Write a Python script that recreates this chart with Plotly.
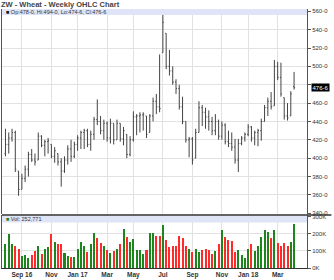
import plotly.graph_objects as go
import pandas as pd

# ---------------- data ----------------
start_date = "2016-08-01"
opens = [405, 415, 422, 428, 386, 366, 378, 388, 404, 398, 398, 424, 414, 418, 415, 402, 405, 396, 386, 398,
         410, 402, 415, 422, 428, 430, 415, 426, 442, 440, 430, 438, 422, 438, 420, 438, 421, 426, 404, 420,
         445, 446, 447, 446, 428, 446, 462, 456, 515, 536, 500, 495, 483, 476, 456, 440, 420, 421, 400, 428,
         455, 450, 445, 440, 430, 440, 424, 436, 418, 416, 412, 398, 416, 422, 426, 434, 422, 428, 430, 440,
         455, 462, 457, 500, 488, 466, 446, 446, 478]
highs = [432, 428, 432, 430, 386, 383, 392, 407, 410, 405, 428, 425, 420, 422, 415, 412, 405, 400, 402, 414,
         420, 418, 425, 430, 432, 432, 430, 445, 464, 446, 442, 440, 443, 438, 442, 438, 434, 426, 424, 451,
         448, 450, 450, 446, 448, 466, 470, 513, 558, 536, 518, 500, 486, 480, 467, 440, 423, 423, 432, 462,
         458, 455, 452, 445, 448, 442, 440, 438, 430, 428, 421, 421, 424, 428, 437, 435, 430, 432, 443, 458,
         466, 472, 507, 505, 504, 466, 460, 473, 494]
lows = [402, 405, 418, 385, 359, 366, 374, 380, 396, 392, 398, 412, 402, 405, 400, 395, 392, 369, 384, 393,
        396, 400, 408, 410, 410, 412, 408, 420, 436, 426, 420, 418, 416, 415, 420, 418, 414, 400, 402, 418,
        425, 428, 430, 422, 428, 440, 448, 450, 515, 497, 490, 480, 470, 453, 437, 417, 401, 393, 400, 428,
        435, 432, 430, 425, 425, 420, 420, 415, 412, 408, 394, 385, 414, 418, 424, 418, 414, 413, 419, 440,
        446, 453, 457, 485, 467, 442, 441, 446, 474.75]
closes = [415, 422, 428, 388, 366, 378, 388, 404, 398, 396, 424, 414, 418, 419, 402, 408, 396, 386, 398, 410,
          402, 415, 422, 428, 430, 415, 426, 442, 440, 430, 438, 422, 438, 420, 438, 421, 430, 404, 420, 445,
          446, 447, 448, 426, 446, 462, 456, 454, 548, 500, 495, 483, 476, 456, 440, 420, 421, 398, 428, 455,
          450, 445, 440, 430, 440, 424, 436, 418, 416, 412, 398, 416, 422, 426, 434, 422, 428, 430, 440, 455,
          462, 456, 500, 488, 470, 446, 444, 470, 476.75]
volumes = [136000, 194000, 138000, 126000, 109000, 66000, 72000, 57000, 75000, 94000,
           128000, 81000, 108000, 117000, 198000, 147000, 138000, 138000, 85000, 70000,
           60000, 62000, 108000, 151000, 128000, 89000, 138000, 202000, 174000, 142000,
           128000, 100000, 85000, 94000, 109000, 138000, 226000, 179000, 151000, 166000,
           104000, 100000, 81000, 104000, 204000, 202000, 183000, 183000, 245000, 160000,
           117000, 126000, 126000, 183000, 174000, 126000, 108000, 89000, 108000, 89000,
           102000, 108000, 104000, 79000, 98000, 136000, 217000, 179000, 158000, 155000,
           89000, 102000, 75000, 55000, 108000, 140000, 98000, 123000, 179000, 217000,
           208000, 174000, 217000, 145000, 123000, 145000, 123000, 151000, 252771]

price_ticks = [340, 360, 380, 400, 420, 440, 460, 480, 500, 520, 540, 560]
# 480-0 is hidden under the last-price marker in the reference
price_labels = ["340-0", "360-0", "380-0", "400-0", "420-0", "440-0", "460-0", "",
                "500-0", "520-0", "540-0", "560-0"]
vol_ticks = [0, 100000, 200000, 300000]
vol_labels = ["0K", "100K", "200K", "300K"]
month_ticks = ["2016-09-05", "2016-11-07", "2017-01-02", "2017-03-06", "2017-05-01",
               "2017-07-03", "2017-09-04", "2017-11-06", "2018-01-01", "2018-03-05"]
month_labels = ["Sep 16", "Nov", "Jan 17", "Mar", "May", "Jul", "Sep", "Nov", "Jan 18", "Mar"]

title_text = "ZW - Wheat - Weekly OHLC Chart"

# ---------------- helpers ----------------
def fmt8(v):
    whole = int(v)
    eighth = int(round((v - whole) * 8))
    return f"{whole}-{eighth}"

dates = pd.date_range(start_date, periods=len(closes), freq="7D")

UP = "#1c861c"
DOWN = "#ff2b2b"
vol_colors = []
for i, c in enumerate(closes):
    ref = opens[i] if i == 0 else closes[i - 1]
    vol_colors.append(UP if c >= ref else DOWN)

FONT = "Arial, Liberation Sans, sans-serif"
TXT = "#333333"

fig = go.Figure()
fig.add_trace(go.Ohlc(
    x=dates, open=opens, high=highs, low=lows, close=closes,
    increasing=dict(line=dict(color="#444444", width=1)),
    decreasing=dict(line=dict(color="#444444", width=1)),
    tickwidth=0.3, xaxis="x", yaxis="y", showlegend=False, hoverinfo="skip",
))
fig.add_trace(go.Bar(
    x=dates, y=volumes, marker=dict(color=vol_colors, line=dict(width=0)),
    width=4.3 * 86400000, xaxis="x2", yaxis="y2", showlegend=False, hoverinfo="skip",
))

x0 = dates[0] - pd.Timedelta(days=7.4)
x1 = dates[0] + pd.Timedelta(days=643.6)

common_x = dict(
    type="date", range=[x0, x1], tickvals=month_ticks,
    ticktext=["<b>" + t + "</b>" for t in month_labels],
    showgrid=True, gridcolor="#e2e2e2", gridwidth=1, zeroline=False,
    rangeslider=dict(visible=False), fixedrange=True,
)
fig.update_layout(
    width=334, height=280,
    margin=dict(l=1, r=27, t=9, b=10),
    paper_bgcolor="white", plot_bgcolor="white",
    font=dict(family=FONT, size=6, color=TXT),
    title=dict(text="<b>" + title_text + "</b>", x=0.003, xanchor="left", xref="container",
               y=0.985, yanchor="middle", yref="container",
               font=dict(family=FONT, size=7.5, color="#444444")),
    xaxis=dict(**common_x, domain=[0, 1], anchor="y", showticklabels=False, ticks=""),
    xaxis2=dict(**common_x, domain=[0, 1], anchor="y2", matches="x", showticklabels=True,
                ticks="", showline=True, linecolor="#333333", linewidth=1,
                tickfont=dict(family=FONT, size=6.5, color="#333333")),
    yaxis=dict(domain=[0.21, 1], range=[339.6, 562.5], side="right", tickvals=price_ticks,
               ticktext=price_labels, showgrid=True, gridcolor="#e2e2e2", zeroline=False,
               showline=True, linecolor="#555555", linewidth=1, mirror=True,
               ticks="outside", ticklen=3, tickcolor="#555555", fixedrange=True,
               tickfont=dict(family=FONT, size=6, color="#333333")),
    yaxis2=dict(domain=[0, 0.203], range=[0, 306000], side="right", tickvals=vol_ticks,
                ticktext=vol_labels, showgrid=True, gridcolor="#e2e2e2", zeroline=False,
                showline=True, linecolor="#555555", linewidth=1, mirror=True,
                ticks="outside", ticklen=3, tickcolor="#555555", fixedrange=True,
                tickfont=dict(family=FONT, size=6, color="#333333")),
    bargap=0,
)

# legend strips
fig.add_shape(type="rect", xref="paper", yref="paper", x0=0, x1=1, y0=0.977, y1=1,
              fillcolor="#dfe4f7", line=dict(width=0), layer="above")
fig.add_shape(type="rect", xref="paper", yref="paper", x0=0, x1=1, y0=0.176, y1=0.203,
              fillcolor="#dfe4f7", line=dict(width=0), layer="above")
# panel separator
fig.add_shape(type="line", xref="paper", yref="paper", x0=0, x1=1.08, y0=0.205, y1=0.205,
              line=dict(color="#333333", width=1.5), layer="above")

last = len(closes) - 1
ohlc_txt = (f"<span style='color:#111'>■</span> Op:{fmt8(opens[last])}, Hi:{fmt8(highs[last])}, "
            f"Lo:{fmt8(lows[last])}, Cl:{fmt8(closes[last])}")
fig.add_annotation(xref="paper", yref="paper", x=0.005, y=0.989, xanchor="left", yanchor="middle",
                   text=ohlc_txt, showarrow=False, font=dict(family=FONT, size=5.5, color="#333333"))
fig.add_annotation(xref="paper", yref="paper", x=0.005, y=0.19, xanchor="left", yanchor="middle",
                   text=f"<span style='color:{UP}'>■</span> Vol: {volumes[last]:,}", showarrow=False,
                   font=dict(family=FONT, size=5.5, color="#333333"))
# last price marker
fig.add_annotation(xref="paper", yref="y", x=1, y=closes[last], xanchor="left", yanchor="middle",
                   xshift=4, text=fmt8(closes[last]), showarrow=False, bgcolor="#000000",
                   borderpad=0.5, font=dict(family=FONT, size=6, color="#ffffff"))

fig.write_html("out.html")
